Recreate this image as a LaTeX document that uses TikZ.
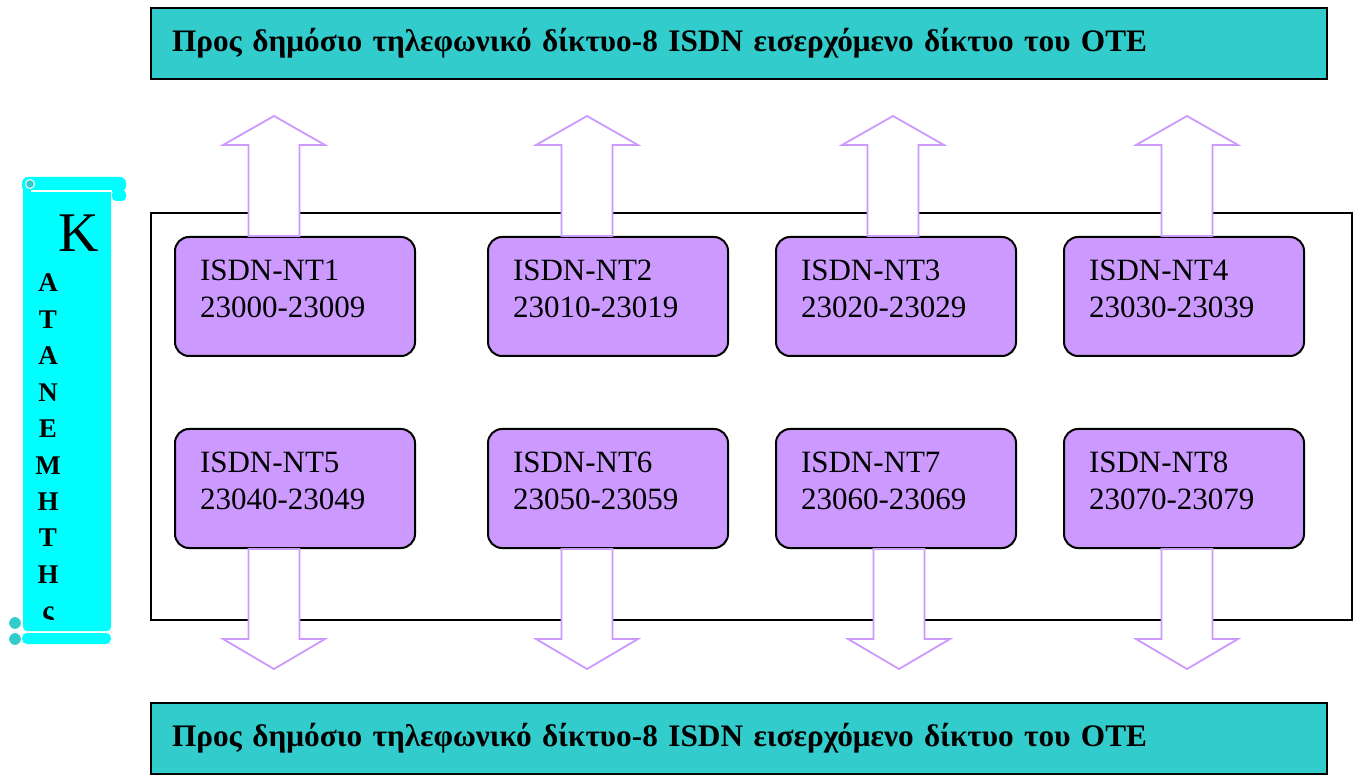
\documentclass[tikz,border=0pt]{standalone}
\usepackage{fontspec}
\setmainfont{Liberation Serif}
\usetikzlibrary{positioning}

\definecolor{otebar}{HTML}{33CCCC}
\definecolor{ntlilac}{HTML}{CC99FF}
\definecolor{scrollcyan}{HTML}{00FFFF}

\begin{document}
\begin{tikzpicture}[x=1pt,y=-1pt,
  otebox/.style={draw,fill=otebar,line width=2pt,anchor=north west,
    minimum width=1176pt,minimum height=71pt,text width=1134pt,inner xsep=21pt,
    align=left,font=\fontsize{31.3}{36}\selectfont\bfseries},
  ntbox/.style={draw,fill=ntlilac,rounded corners=14pt,line width=2pt,
    minimum width=240pt,minimum height=119pt,text width=190pt,inner xsep=25pt,
    text depth=53pt,align=left,font=\fontsize{31}{37}\selectfont},
  rackframe/.style={draw,line width=1.8pt,anchor=north west,
    minimum width=1201pt,minimum height=407pt},
  flow/.style={draw=ntlilac,fill=white,line width=1.8pt},
  upflow/.pic={\path[flow] (-25.5,0) -- (-25.5,-91) -- (-51,-91) -- (0,-120)
    -- (51,-91) -- (25.5,-91) -- (25.5,0) -- cycle;},
  downflow/.pic={\path[flow] (-25.5,0) -- (-25.5,90) -- (-51,90) -- (0,120)
    -- (51,90) -- (25.5,90) -- (25.5,0) -- cycle;},
  letter/.style={anchor=base,inner sep=0pt,font=\fontsize{27}{27}\selectfont\bfseries}
]
  \useasboundingbox (0,0) rectangle (1355,775);

  % links to the public network
  \node[otebox] (top) at (150,7) {Προς δημόσιο τηλεφωνικό δίκτυο-8 ISDN εισερχόμενο δίκτυο του ΟΤΕ};
  \node[otebox] (bottom) at (150,702) {Προς δημόσιο τηλεφωνικό δίκτυο-8 ISDN εισερχόμενο δίκτυο του ΟΤΕ};

  \node[rackframe] (rack) at (150,212) {};

  % the eight NT1 units
  \node[ntbox,anchor=north west] (nt1) at (174,236) {ISDN-NT1\\23000-23009};
  \node[ntbox,right=71pt of nt1] (nt2) {ISDN-NT2\\23010-23019};
  \node[ntbox,right=46pt of nt2] (nt3) {ISDN-NT3\\23020-23029};
  \node[ntbox,right=46pt of nt3] (nt4) {ISDN-NT4\\23030-23039};
  \node[ntbox,below=71pt of nt1] (nt5) {ISDN-NT5\\23040-23049};
  \node[ntbox,below=71pt of nt2] (nt6) {ISDN-NT6\\23050-23059};
  \node[ntbox,below=71pt of nt3] (nt7) {ISDN-NT7\\23060-23069};
  \node[ntbox,below=71pt of nt4] (nt8) {ISDN-NT8\\23070-23079};

  \pic at ([xshift=-21pt]nt1.north) {upflow};
  \pic at ([xshift=-21pt]nt2.north) {upflow};
  \pic at ([xshift=-3pt]nt3.north) {upflow};
  \pic at ([xshift=3pt]nt4.north) {upflow};
  \pic at ([xshift=-21pt]nt5.south) {downflow};
  \pic at ([xshift=-21pt]nt6.south) {downflow};
  \pic at ([xshift=3pt]nt7.south) {downflow};
  \pic at ([xshift=3pt]nt8.south) {downflow};

  % distributor scroll
  \fill[scrollcyan,rounded corners=4pt] (23,186) rectangle (111,631);
  \fill[scrollcyan,rounded corners=6pt] (22,177) rectangle (126,192);
  \draw[white,line width=1.2pt] (31,191) -- (112,191);
  \fill[scrollcyan,rounded corners=4pt] (112,190) rectangle (126,201);
  \filldraw[fill=otebar,draw=white,line width=1pt] (30,184) circle (4.5pt);
  \fill[scrollcyan,rounded corners=5pt] (22,633) rectangle (111,644);
  \draw[white,line width=1.2pt] (22,632.5) -- (108,632.5);
  \filldraw[fill=otebar,draw=white,line width=1pt] (15,623) circle (6.5pt);
  \filldraw[fill=otebar,draw=white,line width=1pt] (15,639) circle (6.5pt);

  \node[anchor=base,inner sep=0pt,font=\fontsize{56}{56}\selectfont] (k) at (79,252) {Κ};
  \begin{scope}
    \clip (23,186) rectangle (111,619);
    \foreach \ch [count=\i] in {Α,Τ,Α,Ν,Ε,Μ,Η,Τ,Η,ς}
      \node[letter] (l\i) at (48,{292+(\i-1)*36.4}) {\ch};
  \end{scope}
\end{tikzpicture}
\end{document}
